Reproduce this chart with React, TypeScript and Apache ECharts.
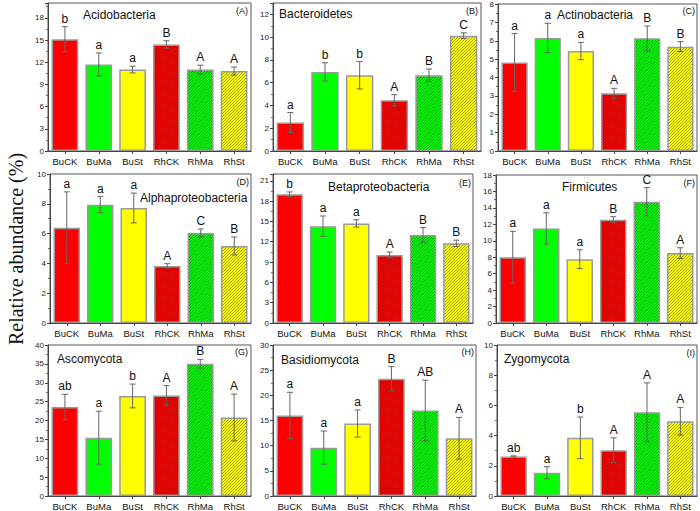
import React, { useEffect, useRef } from "react";
import * as echarts from "echarts";

const categories = ["BuCK", "BuMa", "BuSt", "RhCK", "RhMa", "RhSt"];

const acidoMean = [15.1, 11.7, 11.0, 14.4, 11.0, 10.8];
const acidoErr = [1.7, 1.55, 0.45, 0.5, 0.6, 0.55];
const acidoLetters = ["b", "a", "a", "B", "A", "A"];

const bacteroMean = [2.5, 6.95, 6.65, 4.45, 6.65, 10.13];
const bacteroErr = [0.88, 0.8, 1.2, 0.5, 0.55, 0.25];
const bacteroLetters = ["a", "b", "b", "A", "B", "C"];

const actinoMean = [4.82, 6.15, 5.44, 3.14, 6.13, 5.68];
const actinoErr = [1.57, 0.8, 0.47, 0.27, 0.67, 0.27];
const actinoLetters = ["a", "a", "a", "A", "B", "B"];

const alphaMean = [6.4, 7.94, 7.72, 3.83, 6.04, 5.17];
const alphaErr = [2.4, 0.54, 1.0, 0.15, 0.27, 0.6];
const alphaLetters = ["a", "a", "a", "A", "C", "B"];

const betaMean = [19.0, 14.3, 14.7, 10.03, 13.0, 11.76];
const betaErr = [0.35, 1.5, 0.55, 0.45, 1.08, 0.47];
const betaLetters = ["b", "a", "a", "A", "B", "B"];

const firmMean = [8.0, 11.5, 7.76, 12.56, 14.76, 8.5];
const firmErr = [3.15, 1.9, 1.15, 0.37, 1.7, 0.65];
const firmLetters = ["a", "a", "a", "B", "C", "A"];

const ascoMean = [23.6, 15.45, 26.5, 26.65, 35.04, 20.8];
const ascoErr = [3.35, 7.0, 3.15, 2.6, 1.15, 6.2];
const ascoLetters = ["ab", "a", "b", "A", "B", "A"];

const basidioMean = [16.0, 9.6, 14.4, 23.3, 17.0, 11.47];
const basidioErr = [4.6, 3.3, 2.7, 2.4, 6.0, 4.15];
const basidioLetters = ["a", "a", "a", "B", "AB", "A"];

const zygoMean = [2.62, 1.54, 3.85, 3.03, 5.54, 4.95];
const zygoErr = [0.04, 0.4, 1.38, 0.82, 1.95, 0.92];
const zygoLetters = ["ab", "a", "b", "A", "A", "A"];

const panelNames = [
  "Acidobacteria", "Bacteroidetes", "Actinobacteria",
  "Alphaproteobacteria", "Betaproteobacteria", "Firmicutes",
  "Ascomycota", "Basidiomycota", "Zygomycota",
];
const panelIds = ["(A)", "(B)", "(C)", "(D)", "(E)", "(F)", "(G)", "(H)", "(I)"];
const axisMax = [20, 13, 8, 10, 22, 18, 40, 30, 10];
const axisInterval = [3, 2, 1, 2, 3, 2, 5, 5, 2];

const means = [acidoMean, bacteroMean, actinoMean, alphaMean, betaMean, firmMean, ascoMean, basidioMean, zygoMean];
const errs = [acidoErr, bacteroErr, actinoErr, alphaErr, betaErr, firmErr, ascoErr, basidioErr, zygoErr];
const letters = [acidoLetters, bacteroLetters, actinoLetters, alphaLetters, betaLetters, firmLetters, ascoLetters, basidioLetters, zygoLetters];

// layout: [left, top, width, height]
const grids = [
  [48, 3, 203, 148], [273, 3, 208, 148], [498, 3, 199, 148],
  [50, 174, 201, 149], [273, 174, 200, 149], [496, 175, 201, 148],
  [48, 345, 203, 151], [273, 345, 203, 152], [497, 345, 200, 152],
];
const titlePos = [
  [83, 15], [279, 14], [557, 15],
  [140, 198], [328, 187], [562, 187],
  [57, 359], [281, 360], [504, 359],
];
const idPos = [
  [248, 11], [478, 11], [695, 11],
  [249, 182], [471, 183], [695, 183],
  [248, 352], [474, 352], [695, 353],
];

const baseColors = ["#ff0000", "#00ff00", "#ffff00", "#ff0000", "#00ff00", "#ffff00"];
const stripeColors = ["", "", "", "#a00000", "#009000", "#9a9a00"];
const FONT = "Liberation Sans";

function hatch(bg: string, fg: string) {
  const s = 3;
  const svg =
    `<svg xmlns="http://www.w3.org/2000/svg" width="${s}" height="${s}">` +
    `<rect width="${s}" height="${s}" fill="${bg}"/>` +
    `<path d="M-1,1 L1,-1 M0,${s} L${s},0 M${s - 1},${s + 1} L${s + 1},${s - 1}" stroke="${fg}" stroke-width="0.9"/>` +
    `</svg>`;
  return {
    image: "data:image/svg+xml;charset=utf-8," + encodeURIComponent(svg),
    repeat: "repeat",
    imageWidth: s,
    imageHeight: s,
  };
}

export default function App() {
  const ref = useRef<HTMLDivElement>(null);
  useEffect(() => {
    if (!ref.current) return;
    const chart = echarts.init(ref.current, undefined, { renderer: "svg" });
    const grid: any[] = [];
    const xAxis: any[] = [];
    const yAxis: any[] = [];
    const series: any[] = [];
    const graphic: any[] = [];
    for (let p = 0; p < 9; p++) {
      const [l, t, w, h] = grids[p];
      grid.push({ left: l, top: t, width: w, height: h, show: true, borderColor: "#555", borderWidth: 1, backgroundColor: "transparent" });
      xAxis.push({
        type: "category", gridIndex: p, data: categories,
        axisLine: { lineStyle: { color: "#444" } },
        axisTick: { show: true, alignWithLabel: true, length: 3, lineStyle: { color: "#444" } },
        axisLabel: { fontSize: 9.5, fontFamily: FONT, color: "#111", margin: 5 },
      });
      const iv = axisInterval[p];
      yAxis.push({
        type: "value", gridIndex: p, min: 0, max: axisMax[p], interval: iv,
        splitLine: { show: false },
        axisLine: { show: true, lineStyle: { color: "#444" } },
        axisTick: { show: true, length: 3, lineStyle: { color: "#444" } },
        minorTick: { show: true, splitNumber: 2, length: 2, lineStyle: { color: "#666" } },
        axisLabel: {
          fontSize: 8, fontFamily: FONT, color: "#222", margin: 4,
          formatter: (v: number) => (Math.abs(v / iv - Math.round(v / iv)) < 1e-6 ? String(v) : ""),
        },
      });
      const m = means[p];
      const e = errs[p];
      const lt = letters[p];
      series.push({
        type: "bar", xAxisIndex: p, yAxisIndex: p, barCategoryGap: "21%",
        data: m.map((v, i) => ({
          value: v,
          itemStyle: {
            color: i >= 3 ? hatch(baseColors[i], stripeColors[i]) : baseColors[i],
            borderColor: "#9a9a9a",
            borderWidth: 1.5,
          },
        })),
      });
      series.push({
        type: "custom", xAxisIndex: p, yAxisIndex: p, z: 10,
        data: m.map((v, i) => [i, v, e[i]]),
        renderItem: (params: any, api: any) => {
          const x = api.value(0);
          const v = api.value(1);
          const er = api.value(2);
          const top = api.coord([x, v + er]);
          const bot = api.coord([x, v - er]);
          const hw = 3;
          const ls = { stroke: "#666", lineWidth: 1 };
          return {
            type: "group",
            children: [
              { type: "line", shape: { x1: top[0], y1: top[1], x2: bot[0], y2: bot[1] }, style: ls },
              { type: "line", shape: { x1: top[0] - hw, y1: top[1], x2: top[0] + hw, y2: top[1] }, style: ls },
              { type: "line", shape: { x1: bot[0] - hw, y1: bot[1], x2: bot[0] + hw, y2: bot[1] }, style: ls },
              {
                type: "text",
                style: {
                  text: lt[params.dataIndex], x: top[0], y: top[1] - 2,
                  textAlign: "center", textVerticalAlign: "bottom",
                  fontSize: 12, fontFamily: FONT, fill: "#111",
                },
              },
            ],
          };
        },
      });
      graphic.push({
        type: "text", x: titlePos[p][0], y: titlePos[p][1], z: 20,
        style: { text: panelNames[p], fontSize: 12, fontFamily: FONT, fill: "#111", textAlign: "left", textVerticalAlign: "middle" },
      });
      graphic.push({
        type: "text", x: idPos[p][0], y: idPos[p][1], z: 20,
        style: { text: panelIds[p], fontSize: 9, fontFamily: FONT, fill: "#111", textAlign: "right", textVerticalAlign: "middle" },
      });
    }
    graphic.push({
      type: "text", x: 16, y: 249, rotation: Math.PI / 2,
      style: { text: "Relative abundance (%)", fontSize: 20, fontFamily: "Liberation Serif", fill: "#111", textAlign: "center", textVerticalAlign: "middle" },
    });
    chart.setOption({
      animation: false,
      backgroundColor: "#fff",
      grid, xAxis, yAxis, series, graphic,
    });
    return () => chart.dispose();
  }, []);
  return <div ref={ref} style={{ position: "absolute", left: 0, top: 0, width: 700, height: 511 }} />;
}
